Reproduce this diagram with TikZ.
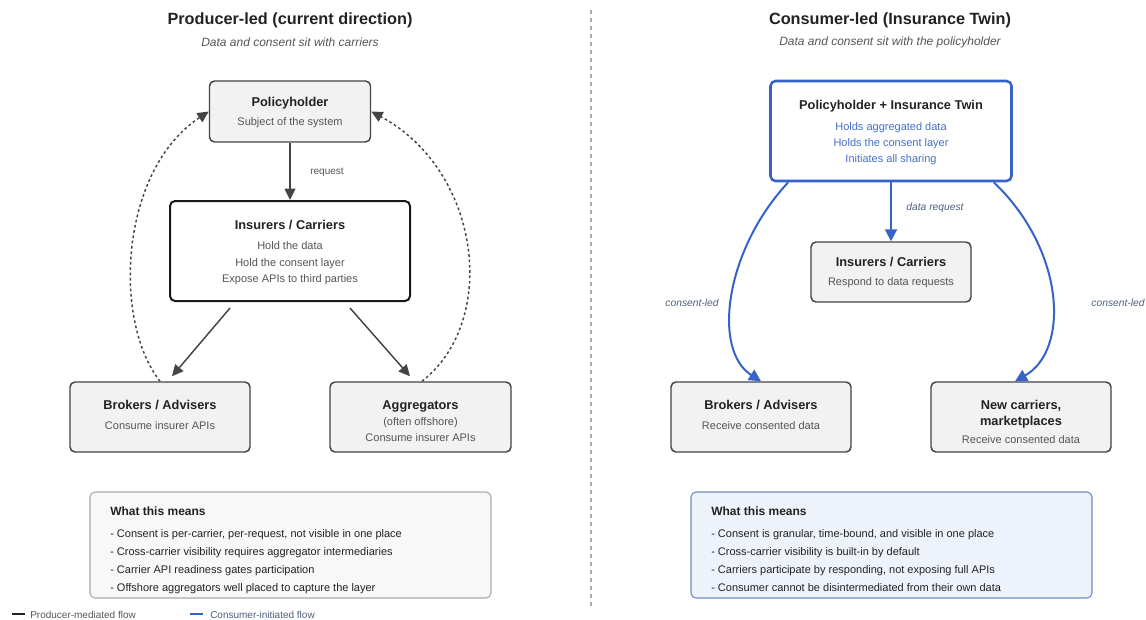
\documentclass[tikz,border=0pt]{standalone}
\usepackage{fontspec}
\setmainfont{Liberation Sans}
\usetikzlibrary{arrows.meta,calc}

\definecolor{ink}{HTML}{222222}
\definecolor{grey}{HTML}{555555}
\definecolor{boxline}{HTML}{444444}
\definecolor{boxfill}{HTML}{F2F2F2}
\definecolor{twinblue}{HTML}{3563C9}
\definecolor{twintext}{HTML}{4470C8}
\definecolor{flowlabel}{HTML}{4D5F80}
\definecolor{meanfill}{HTML}{F8F8F8}
\definecolor{meanline}{HTML}{AAAAAA}
\definecolor{twinfill}{HTML}{EEF3FB}
\definecolor{twinline}{HTML}{6D8CC6}

\tikzset{
  box/.style={draw=boxline, fill=boxfill, line width=1.1pt, rounded corners=3.75pt, inner sep=0pt},
  bsize/.style 2 args={minimum width=#1*0.75pt, minimum height=#2*0.75pt},
  heading/.style={text=ink, font=\fontsize{12.2}{14}\selectfont\bfseries},
  subhead/.style={text=grey, font=\fontsize{9}{11}\selectfont\itshape},
  ttl/.style={text=ink, inner sep=0pt, text height=0.72em, text depth=0pt, font=\fontsize{9.6}{11}\selectfont\bfseries},
  txt/.style={text=grey, inner sep=0pt, text height=0.72em, text depth=0pt, font=\fontsize{8.25}{10}\selectfont},
  bluetxt/.style={txt, text=twintext},
  flowlbl/.style={text=flowlabel, inner sep=0pt, font=\fontsize{7.7}{9}\selectfont\itshape},
  parr/.style={draw=boxline, line width=1.1pt, -{Triangle[length=8.5pt,width=8pt]}},
  dotarr/.style={draw=boxline, line width=1.1pt, dash pattern=on 2pt off 2pt, -{Triangle[length=8.5pt,width=8pt]}},
  barr/.style={draw=twinblue, line width=1.5pt, -{Triangle[length=9pt,width=9pt]}},
  meanrow/.style={text=ink, anchor=west, inner sep=0pt, text height=0.72em, text depth=0pt, font=\fontsize{8.25}{10}\selectfont},
}

\begin{document}
\begin{tikzpicture}[x=0.75pt, y=-0.75pt]
    \useasboundingbox (0,0) rectangle (1146,619);

    % divider
    \draw[meanline, line width=0.8pt, dash pattern=on 3pt off 3pt] (591,10) -- (591,608);

    % ---- producer-led side ----
    \node[heading] (lhead) at (290,20) {Producer-led (current direction)};
    \node[subhead] (lsub) at (290,42) {Data and consent sit with carriers};

    \node[box, bsize={161}{61}] (lph) at (290,111.5) {};
    \node[ttl] (lphT) at (290,102) {Policyholder};
    \node[txt] (lphS) at (290,121) {Subject of the system};

    \node[box, fill=white, draw=black!90, line width=1.5pt, bsize={240}{100}] (lins) at (290,251) {};
    \node[ttl] (linsT) at (290,225) {Insurers / Carriers};
    \node[txt] (linsA) at (290,245) {Hold the data};
    \node[txt] (linsB) at (290,262) {Hold the consent layer};
    \node[txt] (linsC) at (290,278) {Expose APIs to third parties};

    \node[box, bsize={180}{70}] (lbrk) at (160,417) {};
    \node[ttl] (lbrkT) at (160,405) {Brokers / Advisers};
    \node[txt] (lbrkS) at (160,425) {Consume insurer APIs};

    \node[box, bsize={181}{70}] (lagg) at (420.5,417) {};
    \node[ttl] (laggT) at (420.5,405) {Aggregators};
    \node[txt] (laggA) at (420.5,421) {(often offshore)};
    \node[txt] (laggB) at (420.5,437) {Consume insurer APIs};

    \draw[parr] (lph.south) -- (lins.north);
    \node[txt, font=\fontsize{7.5}{9}\selectfont] (lreq) at (327,170) {request};
    \draw[parr] ($(lins.south)+(-60,6)$) -- ($(lbrk.north)+(12,-5)$);
    \draw[parr] ($(lins.south)+(60,6)$) -- ($(lagg.north)+(-10.5,-5)$);
    \draw[dotarr] (lbrk.north) .. controls (112,320) and (120,170) .. (lph.west);
    \draw[dotarr] ($(lagg.north)+(1.5,0)$) .. controls (500,320) and (480,170) .. (lph.east);

    \node[box, draw=meanline, fill=meanfill, line width=0.8pt, bsize={401}{106}] (lmean) at (290.5,545) {};
    \node[meanrow, font=\fontsize{9}{11}\selectfont\bfseries] (lmeanT) at (110,511) {What this means};
    \node[meanrow] (lm1) at (110,533) {- Consent is per-carrier, per-request, not visible in one place};
    \node[meanrow] (lm2) at (110,551) {- Cross-carrier visibility requires aggregator intermediaries};
    \node[meanrow] (lm3) at (110,569) {- Carrier API readiness gates participation};
    \node[meanrow] (lm4) at (110,587) {- Offshore aggregators well placed to capture the layer};

    % ---- consumer-led side ----
    \node[heading] (rhead) at (890,20) {Consumer-led (Insurance Twin)};
    \node[subhead] (rsub) at (890,42) {Data and consent sit with the policyholder};

    \node[box, fill=white, draw=twinblue, line width=1.9pt, bsize={241}{100}] (rph) at (891,131) {};
    \node[ttl] (rphT) at (891,105) {Policyholder + Insurance Twin};
    \node[bluetxt] (rphA) at (891,126) {Holds aggregated data};
    \node[bluetxt] (rphB) at (891,142) {Holds the consent layer};
    \node[bluetxt] (rphC) at (891,158) {Initiates all sharing};

    \node[box, bsize={160}{60}] (rins) at (891,272) {};
    \node[ttl] (rinsT) at (891,262) {Insurers / Carriers};
    \node[txt] (rinsS) at (891,281) {Respond to data requests};

    \node[box, bsize={180}{70}] (rbrk) at (761,417) {};
    \node[ttl] (rbrkT) at (761,405) {Brokers / Advisers};
    \node[txt] (rbrkS) at (761,425) {Receive consented data};

    \node[box, bsize={180}{70}] (rnew) at (1021,417) {};
    \node[ttl] (rnewA) at (1021,405) {New carriers,};
    \node[ttl] (rnewB) at (1021,421) {marketplaces};
    \node[txt] (rnewS) at (1021,439) {Receive consented data};

    \draw[barr] (rph.south) -- (rins.north);
    \node[flowlbl] (rreq) at (935,208) {data request};
    \draw[barr] ($(rph.south west)+(19,0)$) .. controls (725,250) and (712,350) .. (rbrk.north);
    \draw[barr] ($(rph.south east)+(-19,0)$) .. controls (1065,250) and (1070,350) .. ($(rnew.north)+(-6,0)$);
    \node[flowlbl] (rcl1) at (692,303) {consent-led};
    \node[flowlbl] (rcl2) at (1118,303) {consent-led};

    \node[box, draw=twinline, fill=twinfill, line width=0.8pt, bsize={401}{106}] (rmean) at (891.5,545) {};
    \node[meanrow, font=\fontsize{9}{11}\selectfont\bfseries] (rmeanT) at (711,511) {What this means};
    \node[meanrow] (rm1) at (711,533) {- Consent is granular, time-bound, and visible in one place};
    \node[meanrow] (rm2) at (711,551) {- Cross-carrier visibility is built-in by default};
    \node[meanrow] (rm3) at (711,569) {- Carriers participate by responding, not exposing full APIs};
    \node[meanrow] (rm4) at (711,587) {- Consumer cannot be disintermediated from their own data};

    % legend
    \coordinate (k1a) at (12,614);
    \coordinate (k1b) at (25,614);
    \draw[ink, line width=1.5pt] (k1a) -- (k1b);
    \node[txt, anchor=west, text=grey, font=\fontsize{7.5}{9}\selectfont] (k1) at (30,614) {Producer-mediated flow};
    \coordinate (k2a) at (190,614);
    \coordinate (k2b) at (203,614);
    \draw[twinblue, line width=1.5pt] (k2a) -- (k2b);
    \node[txt, anchor=west, text=flowlabel, font=\fontsize{7.5}{9}\selectfont] (k2) at (210,614) {Consumer-initiated flow};
\end{tikzpicture}
\end{document}
